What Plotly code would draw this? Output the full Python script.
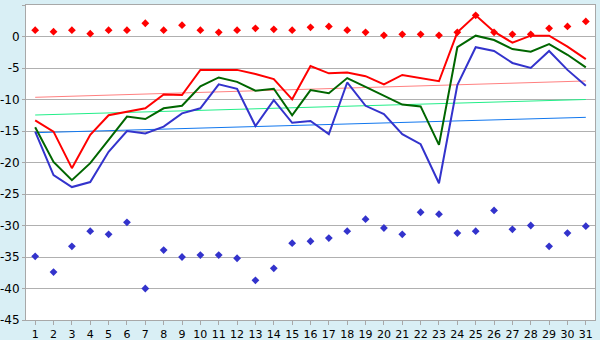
import plotly.graph_objects as go

days = list(range(1, 32))

red_line = [-13.3, -15.1, -20.9, -15.6, -12.5, -11.9, -11.4, -9.2, -9.3, -5.3,
            -5.3, -5.3, -5.95, -6.75, -9.97, -4.7, -5.85, -5.7, -6.3, -7.6,
            -6.1, -6.6, -7.1, 0.67, 3.36, 0.76, -0.98, 0.13, 0.13, -1.6, -3.6]
green_line = [-14.4, -19.9, -22.8, -20.1, -16.4, -12.7, -13.1, -11.4, -11.0, -7.9,
              -6.5, -7.2, -8.6, -8.3, -12.5, -8.5, -9.0, -6.6, -8.0, -9.4,
              -10.8, -11.1, -17.2, -1.7, 0.13, -0.56, -2.0, -2.4, -1.2, -2.9, -4.9]
blue_line = [-15.1, -22.0, -23.9, -23.1, -18.3, -15.0, -15.4, -14.3, -12.2, -11.4,
             -7.6, -8.3, -14.2, -10.1, -13.7, -13.4, -15.5, -7.3, -11.0, -12.3,
             -15.5, -17.1, -23.3, -7.7, -1.7, -2.3, -4.2, -5.0, -2.3, -5.3, -7.8]
red_points = [1.0, 0.76, 1.0, 0.45, 1.0, 1.0, 2.1, 1.0, 1.8, 1.0,
              0.67, 1.0, 1.3, 1.14, 1.0, 1.46, 1.6, 1.0, 0.67, 0.19,
              0.35, 0.35, 0.19, 0.67, 3.36, 0.67, 0.35, 0.35, 1.3, 1.6, 2.4]
blue_points = [-34.9, -37.4, -33.3, -30.9, -31.4, -29.5, -40.0, -33.9, -35.0, -34.7,
               -34.7, -35.2, -38.7, -36.8, -32.8, -32.5, -32.0, -30.9, -29.0, -30.4,
               -31.4, -27.9, -28.2, -31.2, -30.9, -27.6, -30.6, -30.0, -33.3, -31.2, -30.1]

trend_days = [1, 31]
red_trend = [-9.65, -7.06]
green_trend = [-12.46, -10.0]
blue_trend = [-15.27, -12.83]

y_ticks = [5, 0, -5, -10, -15, -20, -25, -30, -35, -40, -45]
y_tick_labels = ["5", "0", "-5", "-10", "-15", "-20", "-25", "-30", "-35", "-40", "-45"]

fig = go.Figure()

fig.add_trace(go.Scatter(x=trend_days, y=red_trend, mode="lines",
                         line=dict(color="#ff8080", width=1)))
fig.add_trace(go.Scatter(x=trend_days, y=green_trend, mode="lines",
                         line=dict(color="#22ee88", width=1)))
fig.add_trace(go.Scatter(x=trend_days, y=blue_trend, mode="lines",
                         line=dict(color="#1177ee", width=1)))

fig.add_trace(go.Scatter(x=days, y=red_line, mode="lines",
                         line=dict(color="#ff0000", width=2)))
fig.add_trace(go.Scatter(x=days, y=green_line, mode="lines",
                         line=dict(color="#006600", width=2)))
fig.add_trace(go.Scatter(x=days, y=blue_line, mode="lines",
                         line=dict(color="#3333cc", width=2)))

fig.add_trace(go.Scatter(x=days, y=red_points, mode="markers",
                         marker=dict(symbol="diamond", size=6, color="#ff0000")))
fig.add_trace(go.Scatter(x=days, y=blue_points, mode="markers",
                         marker=dict(symbol="diamond", size=6, color="#3333cc")))

fig.update_layout(
    width=600, height=340,
    margin=dict(l=26, r=5, t=5, b=20, autoexpand=False),
    paper_bgcolor="#d9eff5",
    plot_bgcolor="#ffffff",
    showlegend=False,
    font=dict(family="DejaVu Sans", size=11, color="#000000"),
)
fig.update_xaxes(
    range=[0.5, 31.5], tickmode="array", tickvals=days,
    ticktext=[str(d) for d in days],
    showgrid=False, zeroline=False, automargin=False,
    showline=True, linecolor="#a8a8a8", linewidth=1, mirror=True,
    ticks="outside", ticklen=4, tickcolor="#a8a8a8",
    tickfont=dict(size=11),
)
fig.update_yaxes(
    range=[-45, 5], tickmode="array", tickvals=y_ticks, ticktext=y_tick_labels,
    showgrid=True, gridcolor="#b0b0b0", gridwidth=1, zeroline=False,
    automargin=False,
    showline=True, linecolor="#a8a8a8", linewidth=1, mirror=True,
    ticks="outside", ticklen=3, tickcolor="#a8a8a8",
    tickfont=dict(size=12),
)

fig.write_html(
    "out.html",
    config={"displayModeBar": False},
    post_script="document.body.style.margin='0';document.body.style.overflow='hidden';",
)
